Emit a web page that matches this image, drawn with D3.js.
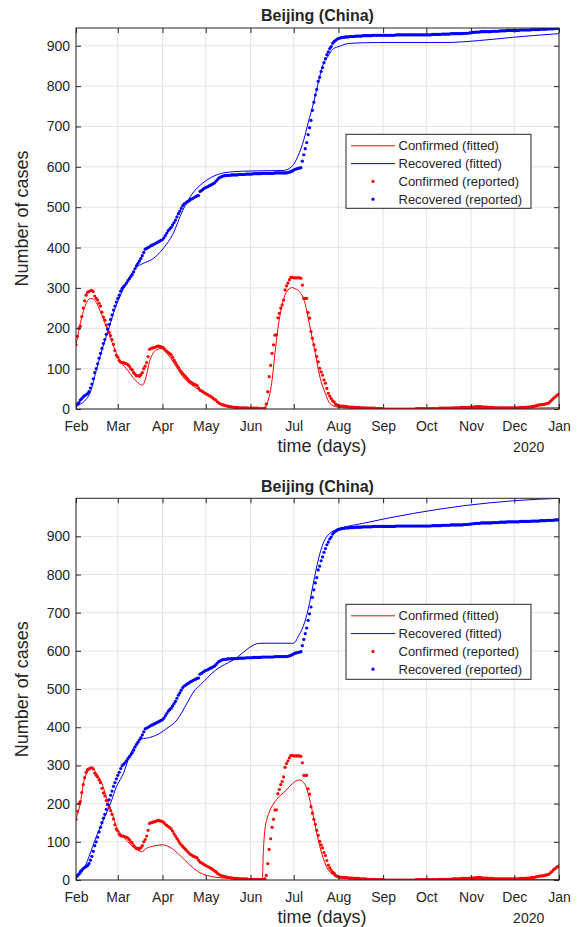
<!DOCTYPE html>
<html>
<head>
<meta charset="utf-8">
<script src="https://cdn.jsdelivr.net/npm/d3@7"></script>
<style>
  body { margin: 0; background: #fff; }
  svg { display: block; }
  text { font-family: "Liberation Sans", Arial, Helvetica, sans-serif; fill: #262626; }
</style>
</head>
<body>
<svg id="chart" width="581" height="927"></svg>
<script>
// ---- data ----------------------------------------------------------------
const START = '2020-02-01';
const END = '2021-01-01';
const monthLabels = ['Feb', 'Mar', 'Apr', 'May', 'Jun', 'Jul', 'Aug', 'Sep', 'Oct', 'Nov', 'Dec', 'Jan'];
const yearLabel = '2020';
const yTickValues = [0, 100, 200, 300, 400, 500, 600, 700, 800, 900];
const legendLabels = ['Confirmed (fitted)', 'Recovered (fitted)', 'Confirmed (reported)', 'Recovered (reported)'];
const chartTitle = 'Beijing (China)';

// daily reported values, day 0 = 1 Feb 2020
const confirmedReported = [
  159, 180, 200, 205, 229, 250, 268, 282, 289, 291,
  293, 294, 291, 280, 274, 270, 262, 255, 240, 228,
  220, 208, 198, 190, 182, 172, 160, 145, 133, 128,
  120, 116, 115, 115, 113, 112, 110, 106, 100, 97,
  90, 86, 82, 83, 81, 85, 90, 100, 106, 115,
  130, 148, 150, 151, 152, 153, 155, 156, 155, 154,
  153, 150, 146, 143, 140, 137, 134, 128, 121, 115,
  109, 103, 97, 92, 88, 84, 80, 76, 72, 68,
  66, 63, 61, 60, 58, 52, 47, 45, 43, 40,
  38, 36, 34, 32, 30, 27, 24, 22, 18, 15,
  13, 11, 10, 9, 8, 7, 6, 6, 5, 5,
  4, 4, 4, 3, 3, 3, 3, 3, 3, 2,
  2, 2, 2, 2, 2, 2, 2, 1, 1, 1,
  1, 3, 12, 43, 80, 108, 138, 159, 183, 184,
  226, 237, 250, 258, 270, 295, 305, 312, 320, 326,
  326, 325, 325, 325, 325, 325, 324, 307, 274, 274,
  274, 239, 225, 192, 175, 159, 146, 130, 117, 101,
  92, 84, 72, 64, 51, 39, 32, 26, 20, 18,
  12, 10, 8, 7, 7, 7, 6, 6, 6, 5,
  5, 5, 5, 4, 4, 4, 4, 3, 3, 3,
  3, 3, 2, 2, 2, 2, 2, 2, 1, 1,
  1, 1, 1, 1, 0, 0, 0, 0, 0, 0,
  0, 0, 0, 0, 0, 0, 0, 0, 0, 0,
  0, 0, 0, 0, 0, 0, 1, 1, 1, 1,
  1, 1, 1, 1, 1, 1, 1, 1, 1, 1,
  1, 1, 2, 2, 2, 2, 2, 2, 2, 2,
  2, 3, 3, 3, 3, 3, 3, 4, 4, 4,
  4, 4, 4, 5, 5, 5, 5, 6, 6, 6,
  6, 6, 5, 5, 5, 5, 4, 4, 4, 4,
  3, 3, 3, 3, 3, 3, 3, 3, 3, 3,
  3, 3, 3, 3, 3, 3, 3, 3, 4, 4,
  4, 4, 4, 5, 5, 5, 6, 6, 7, 8,
  9, 10, 10, 11, 11, 12, 13, 14, 15, 19,
  22, 26, 29, 32, 35, 37
];

const recoveredReported = [
  8, 12, 16, 22, 26, 30, 33, 35, 38, 43,
  52, 62, 75, 90, 100, 112, 126, 138, 150, 162,
  172, 185, 198, 210, 222, 233, 245, 255, 265, 274,
  282, 292, 299, 303, 307, 312, 318, 323, 328, 333,
  340, 348, 355, 361, 367, 373, 380, 388, 396, 398,
  400, 402, 405, 406, 408, 410, 412, 414, 416, 418,
  420, 424, 430, 436, 442, 446, 450, 456, 462, 468,
  476, 484, 490, 497, 504, 508, 510, 513, 515, 518,
  520, 522, 524, 526, 528, 529, 539, 541, 544, 547,
  549, 550, 552, 554, 556, 558, 560, 564, 568, 572,
  574, 576, 577, 578, 578, 579, 579, 579, 580, 580,
  580, 580, 580, 581, 581, 581, 581, 581, 582, 582,
  582, 582, 582, 583, 583, 583, 583, 583, 583, 584,
  584, 584, 584, 584, 584, 584, 584, 584, 585, 585,
  585, 585, 585, 585, 585, 585, 585, 586, 587, 588,
  590, 592, 594, 595, 596, 597, 598, 614, 630, 645,
  660, 680, 697, 715, 740, 760, 778, 792, 812, 822,
  836, 846, 858, 868, 878, 885, 893, 898, 906, 910,
  913, 916, 918, 919, 920, 921, 921, 922, 922, 922,
  923, 923, 923, 923, 924, 924, 924, 924, 924, 925,
  925, 925, 925, 925, 925, 925, 926, 926, 926, 926,
  926, 926, 926, 926, 926, 926, 926, 926, 926, 926,
  926, 926, 927, 927, 927, 927, 927, 927, 927, 927,
  927, 927, 927, 927, 927, 927, 927, 927, 927, 927,
  927, 927, 927, 927, 927, 927, 927, 928, 928, 928,
  928, 928, 928, 928, 929, 929, 929, 929, 929, 929,
  930, 930, 930, 930, 930, 930, 930, 930, 930, 931,
  931, 931, 931, 932, 932, 933, 933, 934, 934, 934,
  934, 935, 935, 935, 935, 935, 935, 935, 935, 936,
  936, 936, 936, 936, 937, 937, 937, 937, 937, 938,
  938, 938, 938, 938, 938, 938, 938, 938, 939, 939,
  939, 939, 939, 939, 939, 939, 940, 940, 940, 940,
  940, 940, 941, 941, 941, 941, 941, 942, 942, 942,
  942, 942, 943, 943, 943, 943
];

// fitted curves, [day since 1 Feb, value]
const confirmedFitTop = [
  [0, 159], [2, 195], [4, 228], [6, 252], [8, 268], [10, 274], [12, 272], [14, 264],
  [17, 241], [21, 205], [24, 175], [28, 138], [31, 117], [36, 95], [40, 76], [43, 65],
  [45, 60], [46, 59], [47, 63], [49, 85], [51, 118], [53, 135], [56, 147], [59, 150],
  [62, 142], [66, 124], [70, 102], [75, 76], [82, 55], [89, 39], [96, 25], [100, 14],
  [105, 6], [110, 3], [120, 1], [129, 0], [131, 2], [133, 18], [136, 72], [138, 138],
  [140, 198], [143, 258], [146, 290], [150, 301], [152, 298], [155, 291], [159, 260],
  [162, 208], [166, 138], [169, 82], [173, 38], [176, 14], [181, 5], [190, 2],
  [213, 0], [260, 1], [300, 2], [335, 3]
];
const recoveredFitTop = [
  [0, 8], [3, 12], [6, 20], [10, 42], [14, 95], [18, 146], [23, 202], [27, 248],
  [32, 291], [37, 326], [41, 348], [45, 358], [48, 363], [52, 369], [56, 380],
  [61, 400], [67, 432], [74, 492], [81, 535], [88, 560], [95, 576], [104, 586],
  [115, 589], [125, 590], [144, 591], [150, 602], [154, 627], [158, 667], [161, 709],
  [165, 762], [168, 808], [171, 850], [175, 875], [178, 891], [183, 899], [190, 906],
  [210, 908], [256, 908], [280, 913], [303, 921], [335, 930]
];
const confirmedFitBottom = [
  [0, 162], [3, 201], [5, 250], [9, 288], [11.5, 293], [14, 280], [18, 253], [21, 218],
  [25, 175], [28, 140], [33, 113], [37, 96], [42, 80], [45.5, 74], [49, 83], [54, 89],
  [60, 92], [65, 86], [72, 65], [79, 39], [86, 19], [93, 10], [104, 5], [128, 3],
  [129.2, 3], [130, 79], [131, 131], [132.5, 160], [134.6, 183], [139, 210], [146, 236],
  [150, 252], [155, 262], [158.8, 250], [162, 212], [165, 160], [168, 105], [171.5, 57],
  [175, 26], [180, 11], [190, 4], [220, 1], [335, 1]
];
const recoveredFitBottom = [
  [0, 4], [5, 26], [9, 61], [14, 113], [19, 157], [24, 201], [28, 244], [33, 280],
  [37, 323], [42, 358], [45.5, 369], [51, 373], [58, 384], [63, 397], [70, 419],
  [77, 463], [82, 495], [86, 510], [97, 550], [109, 576], [127.6, 620], [150.7, 620],
  [152, 623], [154, 637], [157.6, 664], [161, 708], [164.6, 777], [168, 838],
  [171.5, 882], [176, 908], [182, 919], [199, 934], [234, 960], [268.6, 980],
  [303, 993], [335, 999.6]
];

// ---- layout ----------------------------------------------------------------
const RED = '#ff0000', BLUE = '#0000ff', INK = '#262626', GRID = '#e3e3e3';
const LEFT = 76, RIGHT = 559;

const panels = [
  { yMax: 944, conf: confirmedFitTop, rec: recoveredFitTop, top: 28, bottom: 409, legendY: 134.3, legendH: 74 },
  { yMax: 999.6, conf: confirmedFitBottom, rec: recoveredFitBottom, top: 498.3, bottom: 880, legendY: 604.3, legendH: 75 },
];

const svg = d3.select('#chart');
const t0 = new Date(START + 'T00:00:00Z');
const t1 = new Date(END + 'T00:00:00Z');
const dayToDate = (d) => new Date(t0.getTime() + d * 864e5);
const monthTicks = d3.utcMonth.range(t0, d3.utcDay.offset(t1, 1));

const x = d3.scaleUtc().domain([t0, t1]).range([LEFT, RIGHT]);

panels.forEach((p, pi) => {
  const y = d3.scaleLinear().domain([0, p.yMax]).range([p.bottom, p.top]);
  const g = svg.append('g');
  const clipId = 'clip' + pi;

  g.append('clipPath').attr('id', clipId).append('rect')
    .attr('x', LEFT).attr('y', p.top).attr('width', RIGHT - LEFT).attr('height', p.bottom - p.top);

  // grid
  g.append('g').selectAll('line').data(monthTicks).join('line')
    .attr('x1', (d) => x(d)).attr('x2', (d) => x(d))
    .attr('y1', p.top).attr('y2', p.bottom)
    .attr('stroke', GRID).attr('stroke-width', 1);
  g.append('g').selectAll('line').data(yTickValues).join('line')
    .attr('x1', LEFT).attr('x2', RIGHT)
    .attr('y1', (d) => y(d)).attr('y2', (d) => y(d))
    .attr('stroke', GRID).attr('stroke-width', 1);

  const plot = g.append('g').attr('clip-path', `url(#${clipId})`);
  const line = d3.line()
    .x((d) => x(dayToDate(d[0])))
    .y((d) => y(d[1]))
    .curve(d3.curveMonotoneX);

  plot.append('path').datum(p.conf).attr('d', line)
    .attr('fill', 'none').attr('stroke', RED).attr('stroke-width', 1);
  plot.append('path').datum(p.rec).attr('d', line)
    .attr('fill', 'none').attr('stroke', BLUE).attr('stroke-width', 1);

  plot.append('g').selectAll('circle').data(confirmedReported).join('circle')
    .attr('cx', (d, i) => x(dayToDate(i))).attr('cy', (d) => y(d))
    .attr('r', 1.6).attr('fill', RED);
  plot.append('g').selectAll('circle').data(recoveredReported).join('circle')
    .attr('cx', (d, i) => x(dayToDate(i))).attr('cy', (d) => y(d))
    .attr('r', 1.6).attr('fill', BLUE);

  // axes (ticks pointing inward, box on)
  const fmt = (d) => monthLabels[monthTicks.findIndex((m) => +m === +d)];
  const axB = g.append('g').attr('transform', `translate(0,${p.bottom})`)
    .call(d3.axisBottom(x).tickValues(monthTicks).tickFormat(fmt).tickSize(-5).tickPadding(12));
  const axT = g.append('g').attr('transform', `translate(0,${p.top})`)
    .call(d3.axisTop(x).tickValues(monthTicks).tickFormat('').tickSize(-5));
  const axL = g.append('g').attr('transform', `translate(${LEFT},0)`)
    .call(d3.axisLeft(y).tickValues(yTickValues).tickSize(-5).tickPadding(6));
  const axR = g.append('g').attr('transform', `translate(${RIGHT},0)`)
    .call(d3.axisRight(y).tickValues(yTickValues).tickFormat('').tickSize(-5));
  [axB, axT, axL, axR].forEach((a) => {
    a.select('.domain').remove();
    a.selectAll('.tick line').attr('stroke', INK);
    a.selectAll('.tick text').attr('font-size', 14).attr('fill', INK)
      .attr('font-family', '"Liberation Sans", Arial, sans-serif');
  });

  g.append('rect')
    .attr('x', LEFT).attr('y', p.top).attr('width', RIGHT - LEFT).attr('height', p.bottom - p.top)
    .attr('fill', 'none').attr('stroke', INK).attr('stroke-width', 1);

  // texts
  g.append('text').attr('x', 317.5).attr('y', p.top - 6.6)
    .attr('text-anchor', 'middle').attr('font-size', 16).attr('font-weight', 'bold')
    .text(chartTitle);
  g.append('text').attr('x', 322).attr('y', p.bottom + 43)
    .attr('text-anchor', 'middle').attr('font-size', 18)
    .text('time (days)');
  g.append('text').attr('x', 528.7).attr('y', p.bottom + 42.5)
    .attr('text-anchor', 'middle').attr('font-size', 14)
    .text(yearLabel);
  g.append('text')
    .attr('transform', `translate(28,${(p.top + p.bottom) / 2}) rotate(-90)`)
    .attr('text-anchor', 'middle').attr('font-size', 18)
    .text('Number of cases');

  // legend
  const lg = g.append('g');
  lg.append('rect').attr('x', 346).attr('y', p.legendY).attr('width', 185).attr('height', p.legendH)
    .attr('fill', '#fff').attr('stroke', INK).attr('stroke-width', 1);
  const kinds = [
    { c: RED, line: true }, { c: BLUE, line: true },
    { c: RED, line: false }, { c: BLUE, line: false },
  ];
  legendLabels.forEach((lab, i) => {
    const cy = p.legendY + 11.5 + i * 17.8;
    const k = kinds[i];
    if (k.line) {
      lg.append('line').attr('x1', 351).attr('x2', 395).attr('y1', cy).attr('y2', cy)
        .attr('stroke', k.c).attr('stroke-width', 1);
    } else {
      lg.append('circle').attr('cx', 373).attr('cy', cy).attr('r', 1.6).attr('fill', k.c);
    }
    lg.append('text').attr('x', 398.5).attr('y', cy).attr('dy', '0.35em')
      .attr('font-size', 13).text(lab);
  });
});
</script>
</body>
</html>
